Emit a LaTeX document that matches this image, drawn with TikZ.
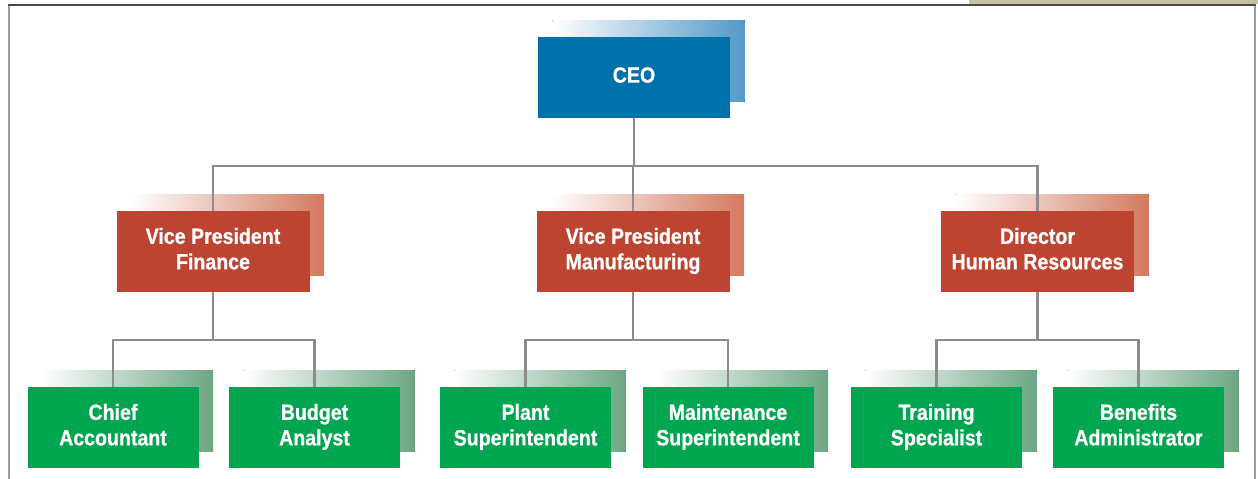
\documentclass[tikz,border=0pt]{standalone}
\usepackage{fontspec}
\setmainfont{Liberation Sans}[FakeStretch=0.89, BoldFeatures={FakeBold=0.8}]
\usetikzlibrary{calc}
\pgfdeclarelayer{shadowlayer}
\pgfdeclarelayer{linelayer}
\pgfsetlayers{shadowlayer,linelayer,main}
\definecolor{bluemain}{HTML}{0071AA}
\definecolor{blueshade}{HTML}{5299C8}
\definecolor{redmain}{HTML}{BE4432}
\definecolor{redshade}{HTML}{D4795F}
\definecolor{greenmain}{HTML}{00A54F}
\definecolor{greenshade}{HTML}{6DA683}
\definecolor{conngray}{HTML}{8C8C8C}
\definecolor{framedark}{HTML}{4A4A4A}
\definecolor{framegray}{HTML}{9E9E9E}
\definecolor{beige}{HTML}{C6C19E}
\newcommand{\tl}[1]{\begin{tabular}{@{}c@{}}#1\end{tabular}}
\newcommand{\boxshadow}[2]{%
  \begin{pgfonlayer}{shadowlayer}
    \fill[left color=white,right color=#2] ($(#1.south west)+(14.5,-16.5)$) rectangle ($(#1.north east)+(14.5,-16.5)$);
  \end{pgfonlayer}}
\tikzset{
  orgbox/.style={draw=none, minimum height=81pt, inner sep=0pt, text=white,
    font=\fontsize{22}{25.5}\selectfont\bfseries},
  topbox/.style={orgbox, fill=bluemain, minimum width=192pt},
  midbox/.style={orgbox, fill=redmain, minimum width=193pt},
  lowbox/.style={orgbox, fill=greenmain, minimum width=171pt},
  conn/.style={draw=conngray, line width=2.2pt, line join=miter}
}
\begin{document}
\begin{tikzpicture}[x=1pt,y=-1pt]
\useasboundingbox (0,0) rectangle (1258,479);
% frame
\fill[beige] (969,0) rectangle (1258,4.3);
\draw[framegray, line width=2pt] (8.5,5) -- (8.5,479);
\draw[framegray, line width=2pt] (1255,5) -- (1255,479);
\draw[framedark, line width=1.5pt] (7.5,5) -- (1256,5);
% boxes
\node[topbox] (ceo) at (634,77.5) {\tl{CEO}};
\node[midbox] (vpf) at (213,251.5) {\tl{Vice President\\Finance}};
\node[midbox] (vpm) at (633,251.5) {\tl{Vice President\\Manufacturing}};
\node[midbox] (dhr) at (1037.5,251.5) {\tl{Director\\Human Resources}};
\node[lowbox] (ca) at (113,427.5) {\tl{Chief\\Accountant}};
\node[lowbox] (ba) at (314.5,427.5) {\tl{Budget\\Analyst}};
\node[lowbox] (ps) at (525.5,427.5) {\tl{Plant\\Superintendent}};
\node[lowbox] (ms) at (728,427.5) {\tl{Maintenance\\Superintendent}};
\node[lowbox] (ts) at (936.5,427.5) {\tl{Training\\Specialist}};
\node[lowbox] (bad) at (1138.5,427.5) {\tl{Benefits\\Administrator}};
% shadows
\boxshadow{ceo}{blueshade}
\boxshadow{vpf}{redshade}
\boxshadow{vpm}{redshade}
\boxshadow{dhr}{redshade}
\boxshadow{ca}{greenshade}
\boxshadow{ba}{greenshade}
\boxshadow{ps}{greenshade}
\boxshadow{ms}{greenshade}
\boxshadow{ts}{greenshade}
\boxshadow{bad}{greenshade}
% connectors
\begin{pgfonlayer}{linelayer}
\draw[conn] (ceo.south) -- ++(0,48) coordinate (jceo);
\draw[conn] (vpf.north) |- (jceo) -| (dhr.north);
\draw[conn] (jceo) -- (jceo -| vpm.north) -- (vpm.north);
\draw[conn] (vpf.south) -- ++(0,48) coordinate (jf);
\draw[conn] (ca.north) |- (jf) -| (ba.north);
\draw[conn] (vpm.south) -- ++(0,48) coordinate (jm);
\draw[conn] (ps.north) |- (jm) -| (ms.north);
\draw[conn] (dhr.south) -- ++(0,48) coordinate (jh);
\draw[conn] (ts.north) |- (jh) -| (bad.north);
\end{pgfonlayer}
\end{tikzpicture}
\end{document}
